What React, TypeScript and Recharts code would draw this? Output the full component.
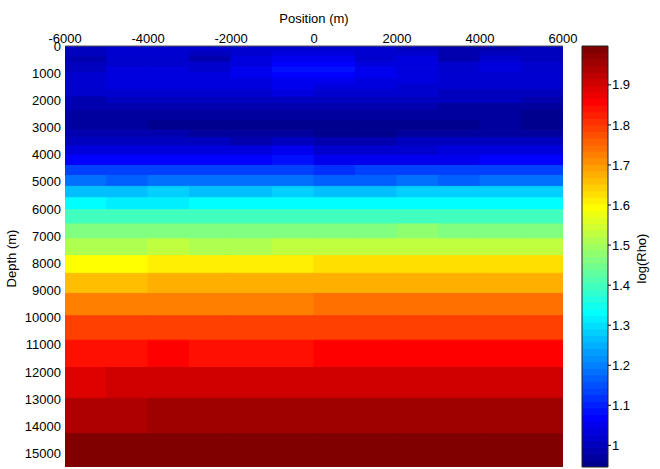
import React from "react";
import { ScatterChart, Scatter, XAxis, YAxis, ReferenceArea, Label } from "recharts";

const FONT = '"Liberation Sans", Arial, Helvetica, sans-serif';

// Cell edges (m)
const positionEdges = [-6000, -5000, -4000, -3000, -2000, -1000, 0, 1000, 2000, 3000, 4000, 5000, 6000];
const depthEdges = [
  0, 200, 380, 600, 780, 980, 1200, 1400, 1610, 1880, 2120, 2370, 2740, 3100, 3370, 3680, 4030,
  4400, 4770, 5170, 5590, 6030, 6550, 7100, 7720, 8370, 9110, 9930, 10830, 11840, 12970, 14270, 15500,
];

// Tick labels
const xTicks = [-6000, -4000, -2000, 0, 2000, 4000, 6000];
const yTicks = [0, 1000, 2000, 3000, 4000, 5000, 6000, 7000, 8000, 9000, 10000, 11000, 12000, 13000, 14000, 15000];
const cbTicks = [1, 1.1, 1.2, 1.3, 1.4, 1.5, 1.6, 1.7, 1.8, 1.9];

// Colour limits
const cMin = 0.946;
const cMax = 1.997;

// log(Rho) per layer (rows, top to bottom) and column (left to right)
const logRho = [
  [1.004, 1.020, 1.020, 1.020, 1.020, 1.020, 1.020, 1.020, 1.004, 0.987, 0.987, 1.004],
  [1.004, 1.020, 1.020, 1.004, 1.020, 1.036, 1.036, 1.020, 1.020, 0.987, 1.004, 1.004],
  [0.987, 1.020, 1.020, 0.987, 1.036, 1.053, 1.053, 1.020, 1.036, 0.987, 1.020, 1.004],
  [1.004, 1.020, 1.020, 1.020, 1.036, 1.069, 1.069, 1.036, 1.036, 1.020, 1.036, 1.020],
  [1.004, 1.036, 1.036, 1.020, 1.053, 1.086, 1.086, 1.053, 1.036, 1.020, 1.036, 1.020],
  [1.020, 1.036, 1.036, 1.036, 1.053, 1.069, 1.069, 1.053, 1.036, 1.020, 1.020, 1.020],
  [1.020, 1.036, 1.036, 1.036, 1.036, 1.053, 1.053, 1.036, 1.036, 1.020, 1.020, 1.020],
  [1.020, 1.036, 1.036, 1.036, 1.036, 1.053, 1.036, 1.036, 1.020, 1.020, 1.020, 1.020],
  [1.020, 1.020, 1.020, 1.020, 1.020, 1.036, 1.020, 1.020, 1.020, 1.004, 1.004, 1.004],
  [0.987, 1.004, 1.004, 1.004, 1.004, 1.004, 1.004, 1.004, 1.004, 1.004, 1.004, 0.987],
  [0.987, 0.987, 0.987, 0.987, 0.987, 0.987, 0.987, 0.987, 0.987, 0.971, 0.971, 0.971],
  [0.971, 0.971, 0.971, 0.971, 0.971, 0.971, 0.971, 0.971, 0.971, 0.971, 0.971, 0.954],
  [0.971, 0.971, 0.954, 0.954, 0.954, 0.954, 0.954, 0.954, 0.954, 0.954, 0.971, 0.954],
  [0.987, 0.987, 0.987, 0.971, 0.971, 0.971, 0.954, 0.954, 0.971, 0.971, 0.971, 0.971],
  [1.004, 1.004, 1.004, 1.004, 0.987, 1.004, 0.987, 0.987, 1.004, 1.004, 1.004, 1.004],
  [1.036, 1.036, 1.036, 1.036, 1.036, 1.053, 1.020, 1.020, 1.020, 1.036, 1.036, 1.036],
  [1.069, 1.069, 1.069, 1.069, 1.069, 1.086, 1.053, 1.053, 1.053, 1.053, 1.069, 1.069],
  [1.135, 1.135, 1.135, 1.135, 1.135, 1.135, 1.118, 1.135, 1.135, 1.135, 1.135, 1.135],
  [1.184, 1.168, 1.184, 1.184, 1.184, 1.184, 1.168, 1.168, 1.184, 1.168, 1.184, 1.184],
  [1.266, 1.266, 1.283, 1.266, 1.266, 1.283, 1.266, 1.266, 1.283, 1.283, 1.283, 1.283],
  [1.332, 1.316, 1.316, 1.332, 1.332, 1.332, 1.332, 1.332, 1.332, 1.332, 1.332, 1.332],
  [1.398, 1.398, 1.398, 1.398, 1.398, 1.398, 1.398, 1.398, 1.398, 1.398, 1.398, 1.398],
  [1.463, 1.463, 1.463, 1.463, 1.463, 1.463, 1.463, 1.463, 1.480, 1.463, 1.463, 1.463],
  [1.513, 1.513, 1.529, 1.513, 1.513, 1.529, 1.529, 1.529, 1.529, 1.529, 1.529, 1.529],
  [1.595, 1.595, 1.611, 1.611, 1.611, 1.611, 1.628, 1.628, 1.628, 1.628, 1.628, 1.628],
  [1.660, 1.660, 1.677, 1.677, 1.677, 1.677, 1.677, 1.677, 1.677, 1.677, 1.677, 1.677],
  [1.726, 1.726, 1.726, 1.726, 1.726, 1.726, 1.743, 1.743, 1.743, 1.743, 1.743, 1.743],
  [1.792, 1.792, 1.792, 1.792, 1.792, 1.792, 1.792, 1.792, 1.792, 1.792, 1.792, 1.792],
  [1.841, 1.841, 1.857, 1.841, 1.841, 1.841, 1.857, 1.857, 1.857, 1.857, 1.857, 1.857],
  [1.890, 1.907, 1.907, 1.907, 1.907, 1.907, 1.907, 1.907, 1.907, 1.907, 1.907, 1.907],
  [1.940, 1.940, 1.956, 1.956, 1.956, 1.956, 1.956, 1.956, 1.956, 1.956, 1.956, 1.956],
  [1.989, 1.989, 1.989, 1.989, 1.989, 1.989, 1.989, 1.989, 1.989, 1.989, 1.989, 1.989],
];

// MATLAB-style jet(64) colormap
const N_COLORS = 64;
function jetColor(k: number): string {
  const i = k + 1;
  const u = (q: number) => (q < 1 || q > 47 ? 0 : q <= 16 ? q / 16 : q <= 31 ? 1 : (48 - q) / 16);
  const r = u(i - 24);
  const g = u(i - 8);
  const b = u(i + 8);
  const h = (x: number) => Math.round(x * 255).toString(16).padStart(2, "0");
  return `#${h(r)}${h(g)}${h(b)}`;
}
function colorFor(v: number): string {
  let k = Math.floor(((v - cMin) / (cMax - cMin)) * N_COLORS);
  if (k < 0) k = 0;
  if (k > N_COLORS - 1) k = N_COLORS - 1;
  return jetColor(k);
}

const tickStyle = { fill: "#000", fontSize: 13, fontFamily: FONT };
const NoShape = () => <g />;

export default function App() {
  const cells: React.ReactNode[] = [];
  const cellCenters: { x: number; y: number }[] = [];
  logRho.forEach((row, r) =>
    row.forEach((val, c) => {
      const col = colorFor(val);
      cellCenters.push({
        x: (positionEdges[c] + positionEdges[c + 1]) / 2,
        y: (depthEdges[r] + depthEdges[r + 1]) / 2,
      });
      cells.push(
        <ReferenceArea
          key={`c-${r}-${c}`}
          x1={positionEdges[c]}
          x2={positionEdges[c + 1]}
          y1={depthEdges[r]}
          y2={depthEdges[r + 1]}
          fill={col}
          fillOpacity={1}
          stroke={col}
          strokeWidth={1}
          ifOverflow="hidden"
        />
      );
    })
  );

  const bands: React.ReactNode[] = [];
  const bandCenters: { x: number; y: number }[] = [];
  for (let k = 0; k < N_COLORS; k++) {
    const col = jetColor(k);
    const y1 = cMin + (k * (cMax - cMin)) / N_COLORS;
    const y2 = cMin + ((k + 1) * (cMax - cMin)) / N_COLORS;
    bandCenters.push({ x: 0.5, y: (y1 + y2) / 2 });
    bands.push(
      <ReferenceArea
        key={`b-${k}`}
        x1={0}
        x2={1}
        y1={y1}
        y2={y2}
        fill={col}
        fillOpacity={1}
        stroke={col}
        strokeWidth={1}
        ifOverflow="hidden"
      />
    );
  }

  return (
    <div style={{ position: "absolute", left: 0, top: 0, width: 660, height: 469, background: "#fff" }}>
      <div style={{ position: "absolute", left: 0, top: 0 }}>
        <ScatterChart width={660} height={469} margin={{ top: 20, right: 97, bottom: 2, left: 0 }}>
          <XAxis
            type="number"
            dataKey="x"
            orientation="top"
            domain={[-6000, 6000]}
            ticks={xTicks}
            interval={0}
            height={26}
            tickSize={0}
            tickMargin={3}
            allowDataOverflow
            axisLine={{ stroke: "#555" }}
            tick={tickStyle}
          >
            <Label
              content={(p: any) => {
                const vb = p.viewBox || { x: 65, y: 20, width: 498 };
                return (
                  <text x={vb.x + vb.width / 2} y={vb.y + 2.5} textAnchor="middle" fill="#000" fontSize={13} fontFamily={FONT}>
                    Position (m)
                  </text>
                );
              }}
            />
          </XAxis>
          <YAxis
            type="number"
            dataKey="y"
            reversed
            domain={[0, 15500]}
            ticks={yTicks}
            interval={0}
            width={65}
            tickSize={0}
            tickMargin={4}
            allowDataOverflow
            axisLine={false}
            tick={tickStyle}
          >
            <Label
              content={(p: any) => {
                const vb = p.viewBox || { x: 0, y: 46, width: 65, height: 421 };
                const x = vb.x + 15.5;
                const y = vb.y + vb.height / 2 + 2;
                return (
                  <text x={x} y={y} transform={`rotate(-90, ${x}, ${y})`} textAnchor="middle" fill="#000" fontSize={13} fontFamily={FONT}>
                    Depth (m)
                  </text>
                );
              }}
            />
          </YAxis>
          {cells}
          <Scatter data={cellCenters} shape={NoShape} isAnimationActive={false} />
        </ScatterChart>
      </div>
      <div style={{ position: "absolute", left: 0, top: 0 }}>
        <ScatterChart width={660} height={469} margin={{ top: 46, right: 0, bottom: 2, left: 582 }}>
          <XAxis type="number" dataKey="x" domain={[0, 1]} hide allowDataOverflow />
          <YAxis
            type="number"
            dataKey="y"
            orientation="right"
            domain={[cMin, cMax]}
            ticks={cbTicks}
            interval={0}
            width={52}
            tickSize={3}
            tickMargin={1}
            allowDataOverflow
            axisLine={false}
            tickLine={{ stroke: "#000" }}
            tick={tickStyle}
            tickFormatter={(v: number) => String(Number(v.toFixed(1)))}
          >
            <Label
              content={(p: any) => {
                const vb = p.viewBox || { x: 608, y: 46, width: 52, height: 421 };
                const x = vb.x + 38;
                const y = vb.y + vb.height / 2 + 2;
                return (
                  <text x={x} y={y} transform={`rotate(-90, ${x}, ${y})`} textAnchor="middle" fill="#000" fontSize={13} fontFamily={FONT}>
                    log(Rho)
                  </text>
                );
              }}
            />
          </YAxis>
          {bands}
          <ReferenceArea x1={0} x2={1} y1={cMin} y2={cMax} fill="none" fillOpacity={0} stroke="#222" strokeWidth={1} ifOverflow="visible" />
          <Scatter data={bandCenters} shape={NoShape} isAnimationActive={false} />
        </ScatterChart>
      </div>
    </div>
  );
}
